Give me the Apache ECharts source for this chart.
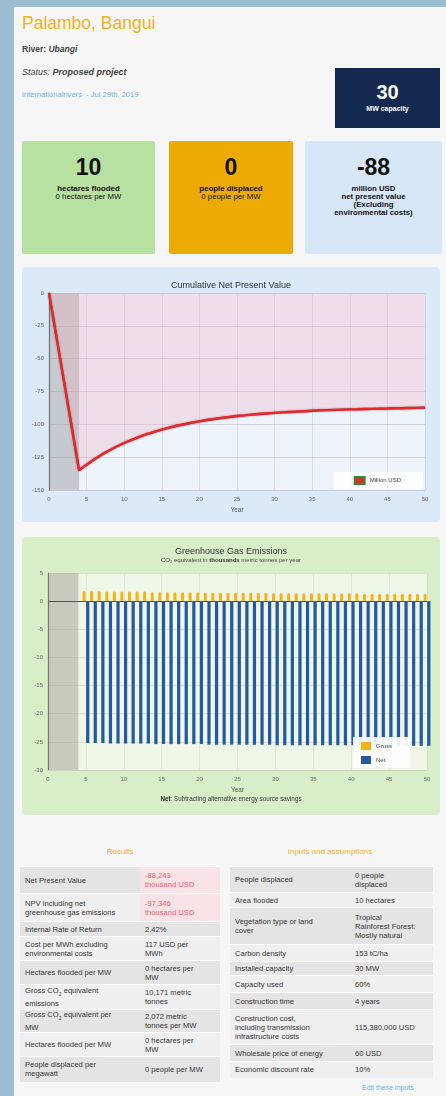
<!DOCTYPE html>
<html><head><meta charset="utf-8">
<script src="https://cdn.jsdelivr.net/npm/echarts@6/dist/echarts.min.js"></script>
<style>
html,body{margin:0;padding:0;width:446px;height:1096px;background:#9dbdd2;font-family:"Liberation Sans",Arial,sans-serif;overflow:hidden;}
#page{position:absolute;left:14px;top:7px;width:432px;height:1089px;background:#f6f6f6;}
.abs{position:absolute;}
#title{left:22px;top:13px;font-size:17.5px;color:#f3b21b;}
.meta{font-size:8.5px;color:#444;left:22px;}
#cap{left:335px;top:68px;width:105px;height:60px;background:#14294f;color:#fff;text-align:center;}
.box{top:141px;height:113px;text-align:center;color:#111;border-radius:2px;}
.box .n{font-size:23px;font-weight:bold;margin-top:14px;line-height:24px;}
.box .t{font-size:7.8px;line-height:8px;margin-top:6px;}
.panel{border-radius:4px;}
table{border-collapse:collapse;font-size:7.6px;color:#333;}
td{padding:0 3px 0 5px;border-top:1.5px solid #fff;vertical-align:middle;line-height:9px;}
tr.g td{background:#e4e4e4;}
tr.w td{background:#efefef;}
.hdr{font-size:8px;color:#f3b21b;text-align:center;}
</style></head>
<body>
<div id="page"></div>
<div class="abs" id="title">Palambo, Bangui</div>
<div class="abs meta" style="top:44px;"><b>River:</b> <b><i>Ubangi</i></b></div>
<div class="abs meta" style="top:67px;font-size:9px;"><i>Status:</i> <b><i>Proposed project</i></b></div>
<div class="abs meta" style="top:90px;color:#6fb3dd;font-size:7.6px;">internationalrivers &nbsp;- Jul 29th, 2019</div>
<div class="abs" id="cap"><div style="font-size:20px;font-weight:bold;margin-top:13px;line-height:22px;">30</div><div style="font-size:7px;font-weight:bold;margin-top:2px;">MW capacity</div></div>

<div class="abs box" style="left:22px;width:133px;background:#b7e0a1;"><div class="n">10</div><div class="t"><b>hectares flooded</b><br>0 hectares per MW</div></div>
<div class="abs box" style="left:169px;width:124px;background:#eeaa04;"><div class="n">0</div><div class="t"><b>people displaced</b><br>0 people per MW</div></div>
<div class="abs box" style="left:305px;width:137px;background:#d7e7f8;"><div class="n">-88</div><div class="t"><b>million USD<br>net present value<br>(Excluding<br>environmental costs)</b></div></div>

<div class="abs panel" style="left:22px;top:267px;width:418px;height:255px;background:#dce9f8;"></div>
<div class="abs" id="c1" style="left:22px;top:267px;width:418px;height:255px;"></div>
<div class="abs panel" style="left:22px;top:537px;width:418px;height:278px;background:#d8eec9;"></div>
<div class="abs" id="c2" style="left:22px;top:537px;width:418px;height:278px;"></div>

<div class="abs hdr" style="left:70px;top:847px;width:100px;">Results</div>
<div class="abs hdr" style="left:270px;top:847px;width:120px;">Inputs and assumptions</div>

<table class="abs" style="left:20px;top:866px;width:200px;">
<tr class="g" style="height:27px"><td style="width:112px">Net Present Value</td><td style="color:#f06070;background:#f9e3e6">-88,243<br>thousand USD</td></tr>
<tr class="w" style="height:28px"><td>NPV including net<br>greenhouse gas emissions</td><td style="color:#f06070;background:#f9e3e6">-97,346<br>thousand USD</td></tr>
<tr class="g" style="height:15px"><td>Internal Rate of Return</td><td>2.42%</td></tr>
<tr class="w" style="height:24px"><td>Cost per MWh excluding<br>environmental costs</td><td>117 USD per<br>MWh</td></tr>
<tr class="g" style="height:24px"><td>Hectares flooded per MW</td><td>0 hectares per<br>MW</td></tr>
<tr class="w" style="height:25px"><td>Gross CO<sub style="font-size:5px">2</sub> equivalent<br>emissions</td><td>10,171 metric<br>tonnes</td></tr>
<tr class="g" style="height:23px"><td>Gross CO<sub style="font-size:5px">2</sub> equivalent per<br>MW</td><td>2,072 metric<br>tonnes per MW</td></tr>
<tr class="w" style="height:24px"><td>Hectares flooded per MW</td><td>0 hectares per<br>MW</td></tr>
<tr class="g" style="height:25px"><td>People displaced per<br>megawatt</td><td>0 people per MW</td></tr>
</table>

<table class="abs" style="left:230px;top:866px;width:203px;">
<tr class="g" style="height:26px"><td style="width:112px">People displaced</td><td>0 people<br>displaced</td></tr>
<tr class="w" style="height:15px"><td>Area flooded</td><td>10 hectares</td></tr>
<tr class="g" style="height:37px"><td>Vegetation type or land<br>cover</td><td>Tropical<br>Rainforest Forest:<br>Mostly natural</td></tr>
<tr class="w" style="height:17px"><td>Carbon density</td><td>153 tC/ha</td></tr>
<tr class="g" style="height:14px"><td>Installed capacity</td><td>30 MW</td></tr>
<tr class="w" style="height:17px"><td>Capacity used</td><td>60%</td></tr>
<tr class="g" style="height:17px"><td>Construction time</td><td>4 years</td></tr>
<tr class="w" style="height:35px"><td>Construction cost,<br>including transmission<br>infrastructure costs</td><td>115,380,000 USD</td></tr>
<tr class="g" style="height:17px"><td>Wholesale price of energy</td><td>60 USD</td></tr>
<tr class="w" style="height:16px"><td>Economic discount rate</td><td>10%</td></tr>
</table>
<div class="abs" style="left:362px;top:1084px;font-size:7px;color:#6fb3dd;">Edit these inputs</div>

<script>
// ---- Chart 1 data: cumulative net present value (million USD) ----
const npvYears = [0,1,2,3,4,5,6,7,8,9,10,11,12,13,14,15,16,17,18,19,20,21,22,23,24,25,26,27,28,29,30,31,32,33,34,35,36,37,38,39,40,41,42,43,44,45,46,47,48,49,50];
const npvValues = [0,-33.75,-67.5,-101.25,-135,-130.7,-126.7,-123.1,-119.9,-116.9,-114.2,-111.8,-109.6,-107.5,-105.7,-104.0,-102.5,-101.1,-99.9,-98.7,-97.7,-96.7,-95.9,-95.1,-94.4,-93.7,-93.2,-92.6,-92.1,-91.7,-91.3,-90.9,-90.6,-90.3,-90.0,-89.7,-89.4,-89.2,-89.0,-88.8,-88.6,-88.5,-88.3,-88.2,-88.1,-88.0,-87.8,-87.7,-87.6,-87.5,-87.4];
const constructionYears = [0,4];

// ---- Chart 2 data: GHG emissions (thousand tonnes CO2e per year) ----
const ghgYears = [5,6,7,8,9,10,11,12,13,14,15,16,17,18,19,20,21,22,23,24,25,26,27,28,29,30,31,32,33,34,35,36,37,38,39,40,41,42,43,44,45,46,47,48,49,50];
const grossValues = [1.8,1.8,1.8,1.7,1.7,1.7,1.7,1.7,1.7,1.6,1.6,1.6,1.6,1.6,1.6,1.6,1.5,1.5,1.5,1.5,1.5,1.5,1.5,1.5,1.5,1.4,1.4,1.4,1.4,1.4,1.4,1.4,1.4,1.4,1.4,1.4,1.4,1.3,1.3,1.3,1.3,1.3,1.3,1.3,1.3,1.3];
const netValues = [-25.2,-25.2,-25.2,-25.3,-25.3,-25.3,-25.3,-25.3,-25.3,-25.4,-25.4,-25.4,-25.4,-25.4,-25.4,-25.4,-25.5,-25.5,-25.5,-25.5,-25.5,-25.5,-25.5,-25.5,-25.5,-25.6,-25.6,-25.6,-25.6,-25.6,-25.6,-25.6,-25.6,-25.6,-25.6,-25.6,-25.6,-25.7,-25.7,-25.7,-25.7,-25.7,-25.7,-25.7,-25.7,-25.7];

const FONT = '"Liberation Sans", Arial, sans-serif';
const axisLbl = {fontSize:6, color:'#666', fontFamily:FONT};

const c1 = echarts.init(document.getElementById('c1'), null, {renderer:'canvas'});
c1.setOption({
  animation:false,
  title:{text:'Cumulative Net Present Value', left:'center', top:9, textStyle:{fontSize:9, fontWeight:'normal', color:'#333', fontFamily:FONT}},
  grid:{left:27, right:15, top:26, bottom:32, show:true, backgroundColor:'#edf3fb', borderWidth:0},
  legend:{data:[{name:'Million USD', icon:'rect'}], right:17, top:205, orient:'horizontal', backgroundColor:'rgba(255,255,255,0.85)', padding:[4,22,4,20], itemWidth:10, itemHeight:7, textStyle:{fontSize:6, color:'#444', fontFamily:FONT}},
  xAxis:{type:'value', min:0, max:50, interval:5, name:'Year', nameLocation:'middle', nameGap:17, nameTextStyle:{fontSize:6.5, color:'#555', fontFamily:FONT},
    axisLine:{show:true, lineStyle:{color:'#c8d2de'}}, axisTick:{show:false}, axisLabel:Object.assign({margin:6}, axisLbl),
    splitLine:{show:true, lineStyle:{color:'rgba(120,120,140,0.18)'}}},
  yAxis:{type:'value', min:-150, max:0, interval:25, axisLine:{show:true, lineStyle:{color:'#555', width:1.2}}, axisTick:{show:false},
    axisLabel:Object.assign({margin:5}, axisLbl), splitLine:{show:true, lineStyle:{color:'rgba(110,110,130,0.22)'}}},
  series:[{
    name:'Million USD', type:'line', data:npvYears.map((y,i)=>[y,npvValues[i]]), showSymbol:false, symbol:'none',
    lineStyle:{color:'#e8262a', width:2.4, shadowColor:'rgba(90,0,0,0.7)', shadowBlur:1.5},
    itemStyle:{color:'#d8302c', borderColor:'#2e8b2e', borderWidth:1.5},
    areaStyle:{color:'rgba(240,175,195,0.45)'},
    markArea:{silent:true, itemStyle:{color:'rgba(150,150,150,0.45)'}, data:[[{xAxis:constructionYears[0], yAxis:-150},{xAxis:constructionYears[1], yAxis:0}]]}
  }]
});

const c2 = echarts.init(document.getElementById('c2'), null, {renderer:'canvas'});
c2.setOption({
  animation:false,
  title:{text:'Greenhouse Gas Emissions', subtext:'{a|CO₂ equivalent in }{b|thousands}{a| metric tonnes per year}', left:'center', top:5, itemGap:1,
    textStyle:{fontSize:9, fontWeight:'normal', color:'#333', fontFamily:FONT},
    subtextStyle:{rich:{a:{fontSize:6, color:'#444', fontFamily:FONT}, b:{fontSize:6, color:'#333', fontWeight:'bold', fontFamily:FONT}}}},
  grid:{left:26, right:13, top:36, bottom:45, show:true, backgroundColor:'#eef6e7', borderWidth:0},
  legend:{data:[{name:'Gross', icon:'rect'},{name:'Net', icon:'rect'}], orient:'vertical', left:331, top:200, backgroundColor:'rgba(255,255,255,0.9)', padding:[5,18,4,8], itemGap:6, itemWidth:10, itemHeight:8,
    textStyle:{fontSize:6, color:'#444', fontFamily:FONT}},
  xAxis:{type:'value', min:0, max:50, interval:5, name:'Year', nameLocation:'middle', nameGap:14, nameTextStyle:{fontSize:6.5, color:'#555', fontFamily:FONT},
    axisLine:{show:true, onZero:false, lineStyle:{color:'#c5d3bb'}}, axisTick:{show:false}, axisLabel:Object.assign({margin:6}, axisLbl),
    splitLine:{show:true, lineStyle:{color:'rgba(120,140,110,0.12)'}}},
  yAxis:{type:'value', min:-30, max:5, interval:5, axisLine:{show:true, lineStyle:{color:'#555', width:1.2}}, axisTick:{show:false},
    axisLabel:Object.assign({margin:5}, axisLbl), splitLine:{show:true, lineStyle:{color:'rgba(110,120,100,0.15)'}}},
  graphic:[{type:'text', left:'center', top:259, style:{rich:{a:{fontSize:6.3, fill:'#222', fontWeight:'bold', fontFamily:FONT}, b:{fontSize:6.3, fill:'#333', fontFamily:FONT}}, text:'{a|Net}{b|: Subtracting alternative energy source savings}'}}],
  series:[
    {name:'Gross', type:'bar', data:ghgYears.map((y,i)=>[y,grossValues[i]]), barWidth:3, barGap:'20%', itemStyle:{color:'#f0b418', borderRadius:[1.5,1.5,0,0]},
     markArea:{silent:true, itemStyle:{color:'rgba(160,160,150,0.5)'}, data:[[{xAxis:constructionYears[0], yAxis:-30},{xAxis:constructionYears[1], yAxis:5}]]},
     markLine:{silent:true, symbol:'none', label:{show:false}, lineStyle:{color:'#555', type:'solid', width:1}, data:[{yAxis:0}]}},
    {name:'Net', type:'bar', data:ghgYears.map((y,i)=>[y,netValues[i]]), barWidth:3.2, itemStyle:{color:'#25599f'}}
  ]
});
</script>
</body></html>
